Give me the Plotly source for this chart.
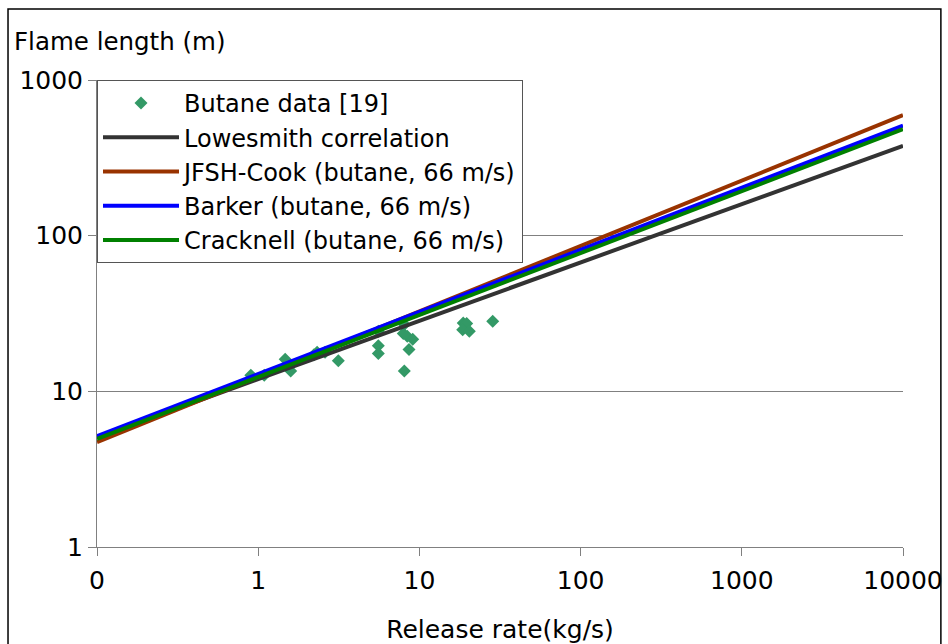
import plotly.graph_objects as go

# Butane data [19]: release rate (kg/s), flame length (m)
data_rate = [0.90, 1.09, 1.47, 1.59, 2.22, 2.32, 2.60, 3.14, 5.56, 5.56, 5.56,
             8.06, 7.94, 8.41, 9.09, 8.62, 8.06, 18.7, 19.65, 18.56, 20.4, 28.5]
data_length = [12.7, 12.7, 16.1, 13.5, 17.2, 17.8, 17.8, 15.7, 24.3, 19.6, 17.5,
               26.9, 23.5, 22.6, 21.6, 18.6, 13.5, 27.5, 27.3, 24.9, 24.3, 28.2]

# correlation lines (straight in log-log), endpoints
line_rate = [0.1, 10000]
lowesmith = [5.05, 378]
jfsh_cook = [4.72, 594]
barker = [5.15, 510]
cracknell = [4.95, 483]

x_ticks = [0.1, 1, 10, 100, 1000, 10000]
x_ticktext = ["0", "1", "10", "100", "1000", "10000"]
y_ticks = [1, 10, 100, 1000]
y_ticktext = ["1", "10", "100", "1000"]

FONT = "DejaVu Sans"

fig = go.Figure()
fig.add_trace(go.Scatter(x=data_rate, y=data_length, mode="markers",
                         name="Butane data [19]",
                         marker=dict(symbol="diamond", size=10, color="#339966")))
fig.add_trace(go.Scatter(x=line_rate, y=lowesmith, mode="lines",
                         name="Lowesmith correlation",
                         line=dict(color="#333333", width=4)))
fig.add_trace(go.Scatter(x=line_rate, y=jfsh_cook, mode="lines",
                         name="JFSH-Cook (butane, 66 m/s)",
                         line=dict(color="#993300", width=4)))
fig.add_trace(go.Scatter(x=line_rate, y=barker, mode="lines",
                         name="Barker (butane, 66 m/s)",
                         line=dict(color="#0000FF", width=4)))
fig.add_trace(go.Scatter(x=line_rate, y=cracknell, mode="lines",
                         name="Cracknell (butane, 66 m/s)",
                         line=dict(color="#008000", width=4)))

fig.update_layout(
    width=948, height=644,
    margin=dict(l=97, r=45, t=80, b=97, autoexpand=False),
    paper_bgcolor="white", plot_bgcolor="white",
    font=dict(family=FONT, size=25, color="black"),
    showlegend=True,
    legend=dict(x=0, y=1, xanchor="left", yanchor="top",
                bgcolor="white", bordercolor="#555555", borderwidth=1,
                font=dict(family=FONT, size=24), itemwidth=76,
                entrywidth=415, tracegroupgap=0),
    xaxis=dict(type="log", range=[-1, 4], tickvals=x_ticks, ticktext=x_ticktext,
               showgrid=False, showline=True, linecolor="#808080", linewidth=1,
               ticks="outside", ticklen=8, tickcolor="#808080",
               tickfont=dict(size=25), zeroline=False, automargin=False,
               ticklabelstandoff=3,
               title=dict(text="Release rate(kg/s)", font=dict(size=25), standoff=28)),
    yaxis=dict(type="log", range=[0, 3], tickvals=y_ticks, ticktext=y_ticktext,
               showgrid=True, gridcolor="#808080", gridwidth=1,
               showline=True, linecolor="#808080", linewidth=1,
               ticks="outside", ticklen=8, tickcolor="#808080",
               tickfont=dict(size=25), zeroline=False, automargin=False),
    annotations=[dict(text="Flame length (m)", xref="paper", yref="paper",
                      x=-0.106, y=1.082, xanchor="left", yanchor="middle",
                      showarrow=False, font=dict(size=24.5))],
    shapes=[dict(type="rect", xref="paper", yref="paper",
                 x0=-0.1104, x1=1.047, y0=-0.25, y1=1.152,
                 line=dict(color="black", width=1.5), fillcolor="rgba(0,0,0,0)",
                 layer="below")],
)

fig.write_html("out.html")
